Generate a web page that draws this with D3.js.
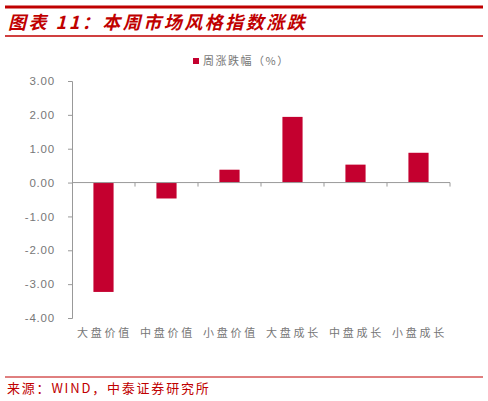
<!DOCTYPE html>
<html>
<head>
<meta charset="utf-8">
<script src="https://cdn.jsdelivr.net/npm/d3@7"></script>
<style>
  body { margin: 0; background: #fff; }
  svg { display: block; }
</style>
</head>
<body>
<svg width="488" height="401"></svg>
<script>
// chart data
var categories = ["大盘价值", "中盘价值", "小盘价值", "大盘成长", "中盘成长", "小盘成长"];
var weeklyChange = [-3.23, -0.47, 0.38, 1.94, 0.53, 0.88];
var yTicks = [3, 2, 1, 0, -1, -2, -3, -4];
var seriesName = "周涨跌幅（%）";
var titleText = "图表 11：本周市场风格指数涨跌";
var sourceText = "来源：WIND，中泰证券研究所";

var svg = d3.select("svg"),
  width = +svg.attr("width"),
  height = +svg.attr("height");

var red = "#c00000",
  barColor = "#c4002f",
  cjk = "'Noto Sans CJK SC', sans-serif";

// header lines + title
svg.append("line").attr("x1", 5).attr("x2", 483).attr("y1", 7).attr("y2", 7)
  .attr("stroke", red).attr("stroke-width", 3);
svg.append("line").attr("x1", 5).attr("x2", 483).attr("y1", 36).attr("y2", 36)
  .attr("stroke", red).attr("stroke-width", 1.3);
svg.append("text")
  .attr("x", 8).attr("y", 29)
  .attr("fill", red)
  .attr("font-family", cjk)
  .attr("font-size", 18)
  .attr("font-weight", "bold")
  .attr("font-style", "italic")
  .attr("letter-spacing", 2.5)
  .text(titleText);

// scales
var x = d3.scaleBand().domain(categories).range([72, 450]).paddingInner(0.68).paddingOuter(0.34);
var y = d3.scaleLinear().domain([-4, 3]).range([318, 81]);

// y axis
var yAxis = svg.append("g")
  .attr("transform", "translate(72,0)")
  .call(d3.axisLeft(y).tickValues(yTicks).tickFormat(d3.format(".2f")).tickSizeOuter(0).tickSize(4));
yAxis.select(".domain").attr("stroke", "#999");
yAxis.selectAll(".tick line").attr("stroke", "#999");
yAxis.selectAll(".tick text")
  .attr("x", -17)
  .attr("fill", "#777")
  .attr("font-family", "'Liberation Sans', Arial, sans-serif")
  .attr("font-size", 11.5)
  .attr("letter-spacing", 0.8)
  .text(function (d) { return d3.format(".2f")(d).replace("−", "-"); });

// bars
svg.append("g")
  .selectAll("rect")
  .data(weeklyChange)
  .enter()
  .append("rect")
    .attr("x", function (d, i) { return x(categories[i]); })
    .attr("width", x.bandwidth())
    .attr("y", function (d) { return y(Math.max(0, d)); })
    .attr("height", function (d) { return Math.abs(y(d) - y(0)); })
    .attr("fill", barColor);

// zero line with category ticks
var step = x.step();
svg.append("line")
  .attr("x1", 72).attr("x2", 450)
  .attr("y1", y(0)).attr("y2", y(0))
  .attr("stroke", "#999");
svg.append("g")
  .selectAll("line")
  .data(d3.range(1, categories.length + 1))
  .enter()
  .append("line")
    .attr("x1", function (d) { return 72 + d * step; })
    .attr("x2", function (d) { return 72 + d * step; })
    .attr("y1", y(0)).attr("y2", y(0) + 4)
    .attr("stroke", "#999");

// category labels
svg.append("g")
  .selectAll("text")
  .data(categories)
  .enter()
  .append("text")
    .attr("x", function (d) { return x(d) + x.bandwidth() / 2 + 1; })
    .attr("y", 337)
    .attr("text-anchor", "middle")
    .attr("fill", "#777")
    .attr("font-family", cjk)
    .attr("font-size", 11)
    .attr("letter-spacing", 2.8)
    .text(function (d) { return d; });

// legend
svg.append("rect").attr("x", 193).attr("y", 58).attr("width", 6).attr("height", 6).attr("fill", barColor);
svg.append("text")
  .attr("x", 203).attr("y", 65)
  .attr("fill", "#777")
  .attr("font-family", cjk)
  .attr("font-size", 11)
  .attr("letter-spacing", 1.5)
  .text(seriesName);

// source
svg.append("line").attr("x1", 5).attr("x2", 483).attr("y1", 377).attr("y2", 377)
  .attr("stroke", red).attr("stroke-width", 1);
svg.append("text")
  .attr("x", 7).attr("y", 393)
  .attr("fill", red)
  .attr("font-family", cjk)
  .attr("font-size", 13)
  .attr("letter-spacing", 1.8)
  .text(sourceText);
</script>
</body>
</html>
